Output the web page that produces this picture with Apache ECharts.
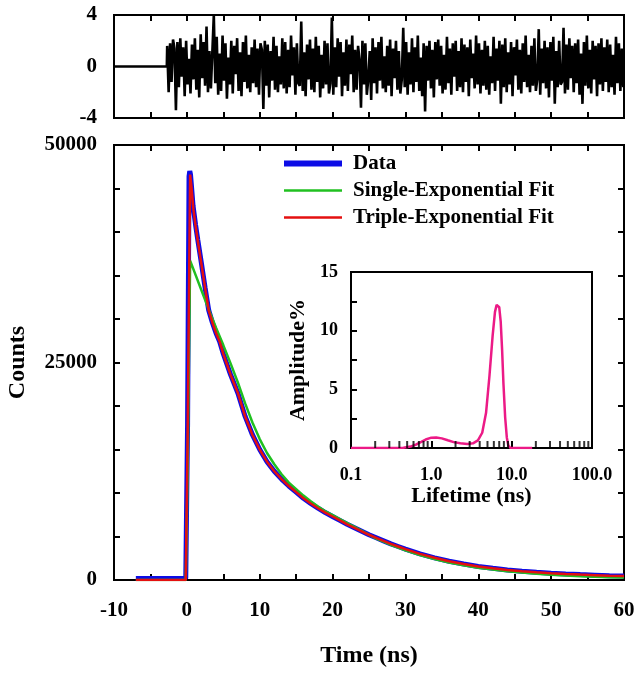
<!DOCTYPE html>
<html><head><meta charset="utf-8">
<script src="https://cdn.jsdelivr.net/npm/echarts@6/dist/echarts.min.js"></script>
<style>html,body{margin:0;padding:0;background:#fff}#c{width:642px;height:676px}</style>
</head><body><div id="c"></div>
<script>
// ---- Data ----
const dataTime   = [-7,-0.15,0.1,0.3,0.4,0.5,0.6,0.85,1.2,1.5,2,2.5,3,3.5,4,4.5,5,5.5,6,7,8,9,10,11,12,13,14,15,16,17,18,19,20,21,22,23,24,25,26,27,28,29,30,32,34,36,38,40,42,44,46,48,50,52,54,56,58,60];
const dataCounts = [180,200,18000,46400,47000,46600,45600,43000,40800,39100,36400,33600,31000,29600,28400,27400,26000,24800,23600,21500,18800,16700,15000,13600,12500,11600,10800,10100,9400,8800,8250,7750,7300,6850,6400,6000,5600,5200,4850,4500,4150,3850,3550,3000,2550,2150,1830,1560,1340,1150,1000,880,780,690,620,560,500,450];

const singleTime   = [-7,-0.15,0.1,0.45,1,2,3,4,5,6,7,8,9,10,11,12,13,14,15,16,17,18,19,20,21,22,23,24,25,26,27,28,29,30,32,34,36,38,40,42,44,46,48,50,52,54,56,58,60];
const singleCounts = [0,0,12000,36700,35500,33300,31100,29000,27000,24900,22700,20300,18100,16200,14600,13300,12150,11200,10450,9700,9050,8450,7900,7450,7000,6550,6100,5650,5200,4750,4400,4050,3720,3420,2860,2400,2010,1690,1420,1200,1010,850,720,610,520,440,380,320,280];

const tripleTime   = [-7,-0.15,0.1,0.45,0.65,0.9,1.2,1.5,2,2.5,3,3.5,4,4.5,5,5.5,6,7,8,9,10,11,12,13,14,15,16,17,18,19,20,21,22,23,24,25,26,27,28,29,30,32,34,36,38,40,42,44,46,48,50,52,54,56,58,60];
const tripleCounts = [0,0,16000,46600,45000,42600,40700,39000,36300,33600,31000,29600,28400,27400,26000,24800,23600,21500,18800,16700,15000,13600,12500,11600,10800,10100,9400,8800,8250,7750,7300,6850,6400,6000,5600,5200,4850,4500,4150,3850,3550,3000,2550,2150,1830,1560,1340,1150,1000,880,780,690,620,560,500,450];

const residualFlatTime = [-10,-2.75];
const residualStart = -2.7;
const residualStep = 0.2;
const residuals = [
1.6,-2.0,1.8,-1.2,2.1,1.4,-3.4,1.9,-1.6,2.2,-0.8,1.5,-2.3,2.0,-1.4,0.6,-2.1,1.7,-1.0,2.2,
-1.8,1.3,-2.4,2.5,-0.9,1.9,-1.5,3.1,-2.0,1.2,-1.7,-1.6,4.0,-1.3,2.3,-2.2,1.0,-1.9,2.4,-1.1,
1.8,-2.5,0.7,-1.4,2.0,-2.1,1.6,-0.6,2.2,-1.9,1.1,-2.3,1.9,-1.2,2.4,-1.7,0.9,-2.0,1.5,-1.3,
2.1,-1.6,1.4,-2.2,1.8,1.3,-3.3,2.0,-1.5,1.7,-2.4,1.2,-1.1,2.3,-1.8,1.6,-2.0,0.8,-1.4,2.2,
-1.7,1.9,-2.1,1.3,-1.6,2.4,-0.7,1.5,-2.2,1.8,-1.3,-1.5,3.5,-1.9,1.1,-2.3,1.7,-1.0,2.1,-1.8,
1.4,-2.0,2.3,-1.2,1.6,-2.4,0.9,-1.7,2.0,-1.4,1.8,-2.1,-1.3,3.8,-2.2,1.5,-1.6,2.2,-0.8,1.9,
-2.3,1.1,-1.5,2.1,-1.9,1.7,-0.6,2.4,-2.0,1.3,-1.8,1.6,0.5,-3.2,2.0,-1.4,1.8,-2.2,-1.0,1.2,
-2.6,2.2,-1.3,1.5,-2.1,1.9,-1.1,2.3,-1.7,0.8,-2.0,1.6,-1.5,2.1,-2.3,1.4,-0.9,2.0,-1.8,1.2,
-2.1,-1.0,3.0,-1.6,1.9,-2.2,1.1,-1.4,2.2,-2.0,1.5,-1.2,2.4,-1.9,0.7,-2.3,1.8,-3.5,1.6,-1.1,
2.0,-1.7,1.3,-2.4,1.9,-1.0,2.1,-1.5,1.6,-2.1,0.9,-1.8,2.3,-1.3,1.4,-2.2,1.8,-0.8,2.0,-1.9,
1.2,-1.6,2.2,-2.0,1.7,-1.2,1.5,-2.3,2.1,-0.9,1.0,-1.7,2.4,-1.4,1.8,-2.1,1.3,-1.5,2.0,-1.8,
1.6,-2.2,0.8,-1.3,2.3,-1.9,1.4,-1.1,2.0,-2.9,1.7,-1.6,2.2,-2.0,1.1,-1.4,1.9,-2.3,1.5,-0.7,
2.1,-1.8,1.3,-2.1,1.8,-1.2,2.4,-1.6,0.9,-2.0,1.6,-1.5,2.2,-1.9,-1.0,2.9,-2.2,1.4,-1.3,2.0,
-1.7,1.5,-2.4,1.9,-1.1,2.3,-2.9,1.2,-1.6,2.0,-1.4,-1.2,3.0,-2.1,1.7,-1.8,2.2,-0.9,1.6,-2.0,
1.8,-1.3,2.1,-2.2,1.0,-2.9,1.9,-1.5,2.4,-1.7,1.3,-2.1,2.0,-1.0,1.6,-2.3,1.8,-1.4,2.2,-1.9,
1.5,-1.2,2.1,-2.0,1.7,-1.6,0.9,-2.2,2.3,-1.3,1.8,-1.9,1.4,-1.6
];

const lifetime  = [0.1,0.3,0.45,0.55,0.65,0.75,0.85,1.0,1.15,1.35,1.6,1.9,2.3,2.8,3.3,3.8,4.3,4.8,5.3,5.8,6.2,6.5,6.75,7.0,7.3,7.6,7.9,8.3,8.7,9.1,9.6,10.5,18];
const amplitude = [0,0,0.02,0.12,0.3,0.52,0.72,0.88,0.9,0.82,0.66,0.5,0.4,0.35,0.4,0.65,1.3,3.0,6.2,9.6,11.6,12.2,12.3,12.0,10.8,8.4,5.5,2.6,0.9,0.2,0.02,0,0];

const lifetimeMinorTicks = [0.2,0.3,0.4,0.5,0.6,0.7,0.8,0.9,2,3,4,5,6,7,8,9,20,30,40,50,60,70,80,90];

const legendNames = ['Data','Single-Exponential Fit','Triple-Exponential Fit'];
const mainXLabels = [-10,0,10,20,30,40,50,60];
const mainYLabels = [0,25000,50000];
const resYLabels = [-4,0,4];
const insetYLabels = [0,5,10,15];

// ---- Build ----
const zip = (a,b) => a.map((v,i)=>[v,b[i]]);
const residualData = residualFlatTime.map(t=>[t,0]).concat(residuals.map((v,i)=>[residualStart+residualStep*i, v]));

const F = '"Liberation Serif","Times New Roman",serif';
const BLACK = '#000';
const BLUE = '#0c0ce6', GREEN = '#20c020', RED = '#e41010', PINK = '#ec1a86';
const axLine = {onZero:false, lineStyle:{color:BLACK, width:2}};
const lbl = (size, extra) => Object.assign({color:BLACK, fontFamily:F, fontWeight:'bold', fontSize:size, showMinLabel:true, showMaxLabel:true, hideOverlap:false}, extra||{});
const tick = (len) => ({show:true, inside:true, length:len, lineStyle:{color:BLACK, width:2}});
const nameStyle = (size) => ({color:BLACK, fontFamily:F, fontWeight:'bold', fontSize:size});
const gridBase = {show:true, borderColor:BLACK, borderWidth:2, backgroundColor:'transparent', containLabel:false, outerBoundsMode:'none'};

const chart = echarts.init(document.getElementById('c'), null, {renderer:'canvas'});
chart.setOption({
  animation:false,
  backgroundColor:'#fff',
  textStyle:{fontFamily:F},
  grid:[
    Object.assign({left:114, top:15, width:510, height:103}, gridBase),
    Object.assign({left:114, top:145, width:510, height:435}, gridBase),
    Object.assign({left:351, top:272, width:241, height:176}, gridBase)
  ],
  legend:{
    data:[
      {name:legendNames[0], lineStyle:{color:BLUE, width:6}},
      {name:legendNames[1], lineStyle:{color:GREEN, width:2.5}},
      {name:legendNames[2], lineStyle:{color:RED, width:2.5}}
    ],
    orient:'vertical', left:281, top:153, itemWidth:58, itemHeight:12, itemGap:6, padding:0,
    itemStyle:{color:'transparent', borderColor:'transparent', borderWidth:0},
    textStyle:{color:BLACK, fontFamily:F, fontWeight:'bold', fontSize:21, padding:[0,0,0,6]},
    selectedMode:false
  },
  xAxis:[
    {gridIndex:0, type:'value', min:-10, max:60, interval:5, axisLine:axLine, axisTick:tick(6), axisLabel:{show:false}, splitLine:{show:false}},
    {gridIndex:0, type:'value', position:'top', min:-10, max:60, interval:5, axisLine:axLine, axisTick:tick(6), axisLabel:{show:false}, splitLine:{show:false}},
    {gridIndex:1, type:'value', min:-10, max:60, interval:5, axisLine:axLine, axisTick:tick(6),
      axisLabel:lbl(21,{margin:20, formatter:v=> mainXLabels.includes(v) ? String(v) : ''}), splitLine:{show:false},
      name:'Time (ns)', nameLocation:'middle', nameGap:64, nameTextStyle:nameStyle(24)},
    {gridIndex:1, type:'value', position:'top', min:-10, max:60, interval:5, axisLine:axLine, axisTick:tick(6), axisLabel:{show:false}, splitLine:{show:false}},
    {gridIndex:2, type:'log', logBase:10, min:0.1, max:100, axisLine:axLine, axisTick:tick(7),
      axisLabel:lbl(18,{margin:18, formatter:v=>Number(v).toFixed(1)}), splitLine:{show:false}, minorTick:{show:false},
      name:'Lifetime (ns)', nameLocation:'middle', nameGap:36, nameTextStyle:nameStyle(22)}
  ],
  yAxis:[
    {gridIndex:0, type:'value', min:-4, max:4, interval:4, axisLine:axLine, axisTick:{show:false},
      axisLabel:lbl(21,{margin:17, formatter:v=> resYLabels.includes(v) ? String(v) : ''}), splitLine:{show:false}},
    {gridIndex:1, type:'value', min:0, max:50000, interval:5000, axisLine:axLine, axisTick:tick(6),
      axisLabel:lbl(21,{margin:17, formatter:v=> mainYLabels.includes(v) ? String(v) : ''}), splitLine:{show:false},
      name:'Counts', nameLocation:'middle', nameGap:84, nameTextStyle:nameStyle(24)},
    {gridIndex:1, type:'value', position:'right', min:0, max:50000, interval:5000, axisLine:axLine, axisTick:tick(6), axisLabel:{show:false}, splitLine:{show:false}},
    {gridIndex:2, type:'value', min:0, max:15, interval:2.5, axisLine:axLine, axisTick:tick(6),
      axisLabel:lbl(18,{margin:13, formatter:v=> insetYLabels.includes(v) ? String(v) : ''}), splitLine:{show:false},
      name:'Amplitude%', nameLocation:'middle', nameGap:42, nameTextStyle:nameStyle(22)}
  ],
  series:[
    {type:'line', name:'residuals', xAxisIndex:0, yAxisIndex:0, data:residualData, symbol:'none', lineStyle:{color:BLACK, width:2.6, join:'bevel'}, clip:true, silent:true},
    {type:'line', name:'Data', xAxisIndex:2, yAxisIndex:1, data:zip(dataTime,dataCounts), symbol:'none', color:BLUE, lineStyle:{color:BLUE, width:5}, clip:true},
    {type:'line', name:'Single-Exponential Fit', xAxisIndex:2, yAxisIndex:1, data:zip(singleTime,singleCounts), symbol:'none', color:GREEN, lineStyle:{color:GREEN, width:2.5}, clip:true},
    {type:'line', name:'Triple-Exponential Fit', xAxisIndex:2, yAxisIndex:1, data:zip(tripleTime,tripleCounts), symbol:'none', color:RED, lineStyle:{color:RED, width:2.5}, clip:true},
    {type:'line', name:'amplitude', xAxisIndex:4, yAxisIndex:3, data:zip(lifetime,amplitude), symbol:'none', lineStyle:{color:PINK, width:2.5}, clip:true, z:3},
    {type:'scatter', name:'minorTicks', xAxisIndex:4, yAxisIndex:3, data:lifetimeMinorTicks.map(v=>[v,0]), symbol:'rect', symbolSize:[2,7], symbolOffset:[0,-3.5], itemStyle:{color:BLACK}, clip:false, silent:true, z:4}
  ]
});
</script>
</body></html>
